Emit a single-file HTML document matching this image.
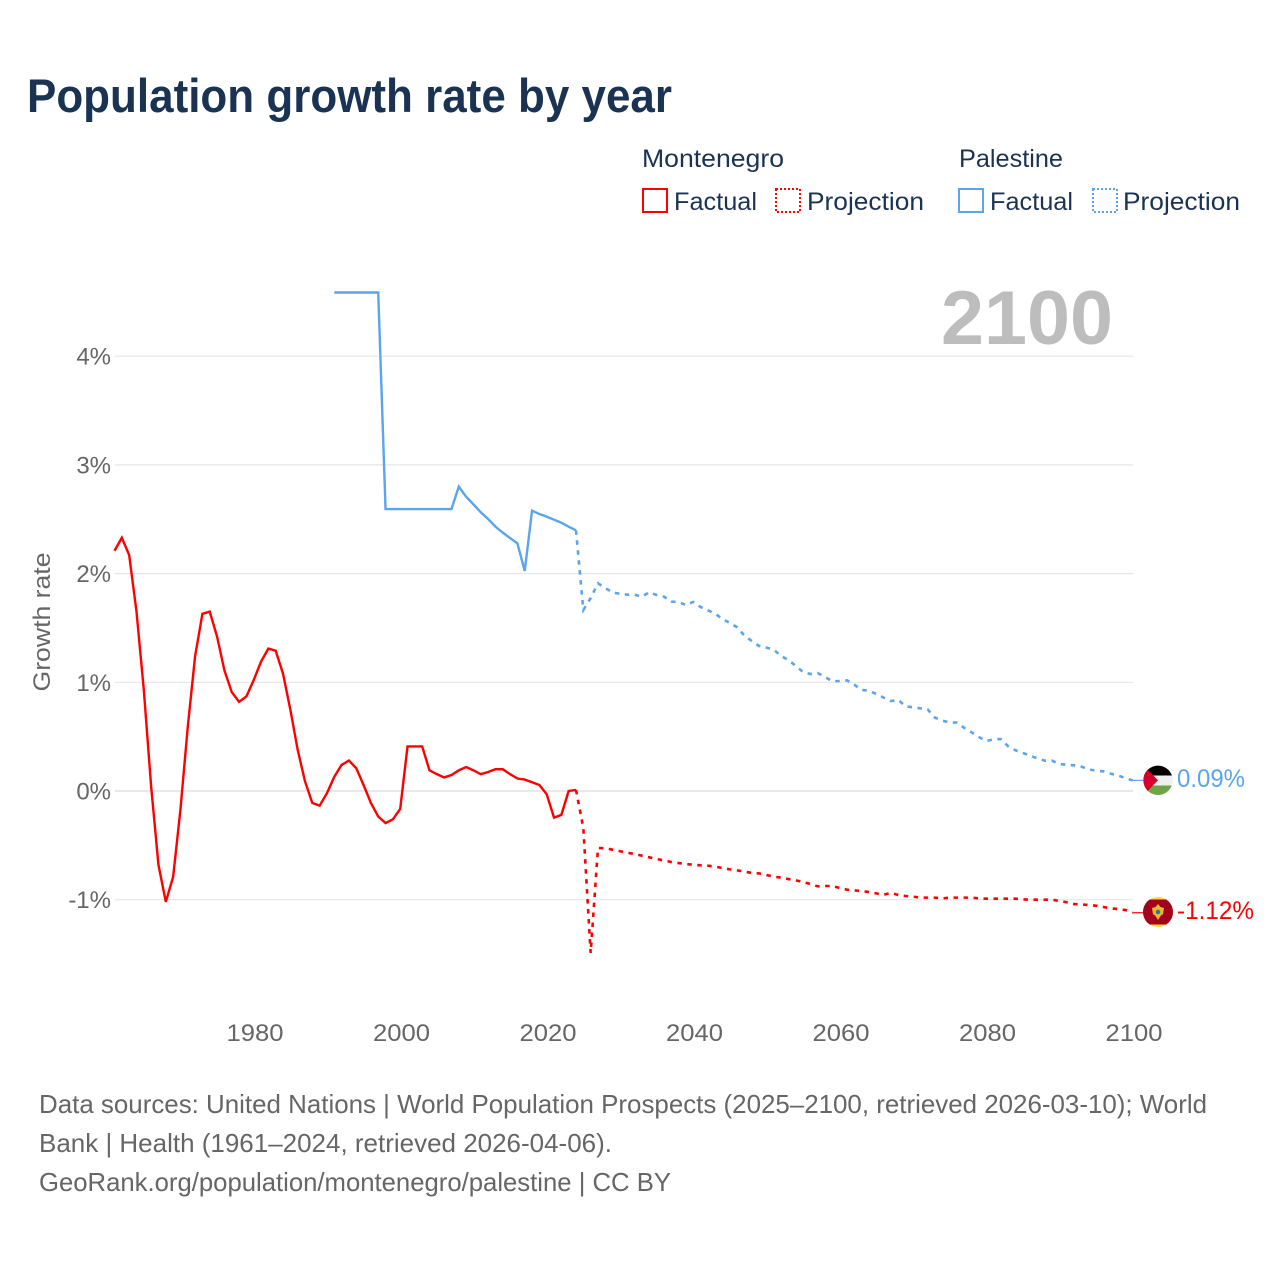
<!DOCTYPE html>
<html lang="en">
<head>
<meta charset="utf-8">
<title>Population growth rate by year</title>
<style>
html,body{margin:0;padding:0;background:#fff;width:1280px;height:1280px;overflow:hidden}
svg{display:block}
text{font-family:"Liberation Sans",sans-serif}
</style>
</head>
<body>
<svg id="chart" xmlns="http://www.w3.org/2000/svg" width="1280" height="1280" viewBox="0 0 1280 1280">
  <rect x="0" y="0" width="1280" height="1280" fill="#fff"/>
  <text x="27" y="112" font-size="47" font-weight="700" fill="#1a3353" textLength="645" lengthAdjust="spacingAndGlyphs">Population growth rate by year</text>

  <g font-size="25" fill="#1a3353">
    <text x="642" y="167" textLength="142" lengthAdjust="spacingAndGlyphs">Montenegro</text>
    <text x="959" y="167" textLength="104" lengthAdjust="spacingAndGlyphs">Palestine</text>
    <rect x="643" y="189" width="24" height="23" fill="none" stroke="#ff0000" stroke-width="2"/>
    <text x="674" y="210" textLength="83" lengthAdjust="spacingAndGlyphs">Factual</text>
    <rect x="776" y="189" width="24" height="23" fill="none" stroke="#ff0000" stroke-width="2" stroke-dasharray="2 2"/>
    <text x="807" y="210" textLength="117" lengthAdjust="spacingAndGlyphs">Projection</text>
    <rect x="959" y="189" width="24" height="23" fill="none" stroke="#5ba4ee" stroke-width="2"/>
    <text x="990" y="210" textLength="83" lengthAdjust="spacingAndGlyphs">Factual</text>
    <rect x="1093" y="189" width="24" height="23" fill="none" stroke="#5ba4ee" stroke-width="2" stroke-dasharray="2 2"/>
    <text x="1123" y="210" textLength="117" lengthAdjust="spacingAndGlyphs">Projection</text>
  </g>

  <g id="grid"></g>
  <text x="941" y="344" font-size="76" font-weight="700" fill="#bdbdbd" textLength="172" lengthAdjust="spacingAndGlyphs">2100</text>
  <text transform="translate(50,622) rotate(-90)" text-anchor="middle" font-size="24" fill="#666" textLength="139" lengthAdjust="spacingAndGlyphs">Growth rate</text>
  <g id="xaxis"></g>
  <g id="yaxis"></g>
  <g id="series"></g>

  <defs>
    <clipPath id="clip-ps"><circle cx="1158" cy="780.3" r="14.7"/></clipPath>
    <clipPath id="clip-me"><circle cx="1158" cy="912" r="15"/></clipPath>
  </defs>
  <g clip-path="url(#clip-ps)">
    <rect x="1143" y="765" width="30" height="10.5" fill="#000"/>
    <rect x="1143" y="775.5" width="30" height="10" fill="#f0f0f0"/>
    <rect x="1143" y="785.5" width="30" height="11" fill="#6da544"/>
    <path d="M1143 765 L1158 780.3 L1143 796 Z" fill="#d80027"/>
  </g>
  <g clip-path="url(#clip-me)">
    <rect x="1143" y="897" width="30" height="30" fill="#ffda44"/>
    <rect x="1143" y="899.5" width="30" height="25" fill="#a2001d"/>
    <path d="M1158 904 L1160.5 907 L1164 908 L1163 914 L1160.5 916 L1158 920 L1155.5 916 L1153 914 L1152 908 L1155.5 907 Z" fill="#e8b92e"/>
    <circle cx="1158" cy="912" r="2.3" fill="#2f7a8a"/>
  </g>
  <text x="1177" y="787" font-size="25" fill="#5ba4ee" textLength="68" lengthAdjust="spacingAndGlyphs">0.09%</text>
  <text x="1177" y="919" font-size="25" fill="#ff0000" textLength="77" lengthAdjust="spacingAndGlyphs">-1.12%</text>

  <g font-size="26" fill="#666">
    <text x="39" y="1113" textLength="1168" lengthAdjust="spacingAndGlyphs">Data sources: United Nations | World Population Prospects (2025–2100, retrieved 2026-03-10); World</text>
    <text x="39" y="1152" textLength="573" lengthAdjust="spacingAndGlyphs">Bank | Health (1961–2024, retrieved 2026-04-06).</text>
    <text x="39" y="1191" textLength="632" lengthAdjust="spacingAndGlyphs">GeoRank.org/population/montenegro/palestine | CC BY</text>
  </g>
</svg>
<script>
const xTickYears = [1980, 2000, 2020, 2040, 2060, 2080, 2100];
const yTickValues = [-1, 0, 1, 2, 3, 4];
const montenegroFactualStart = 1961;
const montenegroFactual = [2.21,2.33,2.17,1.65,0.93,0.04,-0.68,-1.02,-0.79,-0.17,0.59,1.24,1.63,1.65,1.42,1.11,0.91,0.82,0.87,1.02,1.19,1.31,1.29,1.08,0.75,0.38,0.09,-0.11,-0.135,-0.02,0.13,0.24,0.28,0.21,0.055,-0.11,-0.235,-0.295,-0.26,-0.165,0.41,0.41,0.41,0.19,0.155,0.125,0.147,0.19,0.22,0.19,0.155,0.175,0.2,0.2,0.155,0.115,0.105,0.08,0.055,-0.03,-0.245,-0.22,0.0,0.01];
const montenegroProjectionStart = 2024;
const montenegroProjection = [0.01,-0.34,-1.49,-0.525,-0.527,-0.54,-0.554,-0.567,-0.58,-0.595,-0.61,-0.626,-0.638,-0.653,-0.663,-0.672,-0.678,-0.684,-0.687,-0.696,-0.708,-0.721,-0.73,-0.742,-0.754,-0.758,-0.773,-0.788,-0.797,-0.81,-0.822,-0.837,-0.856,-0.877,-0.874,-0.874,-0.892,-0.908,-0.914,-0.92,-0.93,-0.942,-0.954,-0.938,-0.957,-0.966,-0.972,-0.981,-0.981,-0.981,-0.988,-0.981,-0.981,-0.981,-0.981,-0.988,-0.991,-0.991,-0.991,-0.991,-0.991,-0.997,-1.0,-1.0,-1.0,-1.0,-1.012,-1.024,-1.04,-1.043,-1.049,-1.055,-1.067,-1.08,-1.086,-1.095,-1.12];
const palestineFactualStart = 1991;
const palestineFactual = [4.586,4.586,4.586,4.586,4.586,4.586,4.586,2.594,2.594,2.594,2.594,2.594,2.594,2.594,2.594,2.594,2.594,2.8,2.707,2.637,2.564,2.502,2.432,2.377,2.327,2.278,2.024,2.579,2.548,2.524,2.496,2.468,2.432,2.398];
const palestineProjectionStart = 2024;
const palestineProjection = [2.398,1.665,1.775,1.91,1.868,1.825,1.815,1.806,1.806,1.788,1.828,1.803,1.788,1.742,1.739,1.711,1.739,1.693,1.662,1.631,1.582,1.546,1.506,1.429,1.38,1.334,1.319,1.3,1.242,1.205,1.15,1.095,1.076,1.085,1.049,1.009,1.012,1.018,0.978,0.929,0.923,0.892,0.859,0.828,0.837,0.779,0.77,0.76,0.751,0.675,0.647,0.632,0.629,0.58,0.54,0.497,0.46,0.475,0.478,0.411,0.374,0.35,0.325,0.3,0.279,0.279,0.248,0.242,0.236,0.224,0.199,0.187,0.181,0.159,0.144,0.117,0.098];

const NS = 'http://www.w3.org/2000/svg';
function xScale(year) { return 253.7 + (year - 1980) * (1134 - 255) / 120; }
function yScale(value) { return 791 - value * 108.7; }
function make(tag, parent) {
  const el = document.createElementNS(NS, tag);
  document.getElementById(parent).appendChild(el);
  return el;
}
function pathFor(start, values) {
  return values.map(function (v, i) {
    return (i ? 'L' : 'M') + xScale(start + i).toFixed(2) + ' ' + yScale(v).toFixed(2);
  }).join(' ');
}

yTickValues.forEach(function (t) {
  const line = make('line', 'grid');
  
  
  line.setAttribute('x1', 115);
  line.setAttribute('x2', 1133);
  line.setAttribute('y1', yScale(t));
  line.setAttribute('y2', yScale(t));
  line.setAttribute('stroke', t === 0 ? '#e2e2e2' : '#e6e6e6');
  line.setAttribute('stroke-width', t === 0 ? 1.6 : 1.2);

  const label = make('text', 'yaxis');
  
  
  label.setAttribute('x', 111);
  label.setAttribute('y', yScale(t) + 8.5);
  label.setAttribute('text-anchor', 'end');
  label.setAttribute('font-size', 24);
  label.setAttribute('fill', '#666');
  label.textContent = t + '%';
});

xTickYears.forEach(function (t) {
  const label = make('text', 'xaxis');
  
  
  label.setAttribute('x', xScale(t) + 1.3);
  label.setAttribute('y', 1041);
  label.setAttribute('text-anchor', 'middle');
  label.setAttribute('font-size', 24);
  label.setAttribute('fill', '#666');
  label.setAttribute('textLength', 57);
  label.setAttribute('lengthAdjust', 'spacingAndGlyphs');
  label.textContent = String(t);
});

const lineMontenegroFactual = make('path', 'series');


lineMontenegroFactual.setAttribute('d', pathFor(montenegroFactualStart, montenegroFactual));
lineMontenegroFactual.setAttribute('fill', 'none');
lineMontenegroFactual.setAttribute('stroke', '#ff0000');
lineMontenegroFactual.setAttribute('stroke-width', 2.4);

const lineMontenegroProjection = make('path', 'series');


lineMontenegroProjection.setAttribute('d', pathFor(montenegroProjectionStart, montenegroProjection));
lineMontenegroProjection.setAttribute('fill', 'none');
lineMontenegroProjection.setAttribute('stroke', '#ff0000');
lineMontenegroProjection.setAttribute('stroke-width', 2.6);
lineMontenegroProjection.setAttribute('stroke-dasharray', '4.5 5.5');

const linePalestineFactual = make('path', 'series');


linePalestineFactual.setAttribute('d', pathFor(palestineFactualStart, palestineFactual));
linePalestineFactual.setAttribute('fill', 'none');
linePalestineFactual.setAttribute('stroke', '#5ba4ee');
linePalestineFactual.setAttribute('stroke-width', 2.4);

const linePalestineProjection = make('path', 'series');


linePalestineProjection.setAttribute('d', pathFor(palestineProjectionStart, palestineProjection));
linePalestineProjection.setAttribute('fill', 'none');
linePalestineProjection.setAttribute('stroke', '#5ba4ee');
linePalestineProjection.setAttribute('stroke-width', 2.6);
linePalestineProjection.setAttribute('stroke-dasharray', '4.5 5.5');

const connectorMontenegro = make('line', 'series');


connectorMontenegro.setAttribute('x1', xScale(2100));
connectorMontenegro.setAttribute('x2', 1144);
connectorMontenegro.setAttribute('y1', yScale(montenegroProjection[montenegroProjection.length - 1]));
connectorMontenegro.setAttribute('y2', yScale(montenegroProjection[montenegroProjection.length - 1]));
connectorMontenegro.setAttribute('stroke', '#ff0000');
connectorMontenegro.setAttribute('stroke-width', 1.2);

const connectorPalestine = make('line', 'series');


connectorPalestine.setAttribute('x1', xScale(2100));
connectorPalestine.setAttribute('x2', 1144);
connectorPalestine.setAttribute('y1', yScale(palestineProjection[palestineProjection.length - 1]));
connectorPalestine.setAttribute('y2', yScale(palestineProjection[palestineProjection.length - 1]));
connectorPalestine.setAttribute('stroke', '#5ba4ee');
connectorPalestine.setAttribute('stroke-width', 1.2);
</script>
</body>
</html>
